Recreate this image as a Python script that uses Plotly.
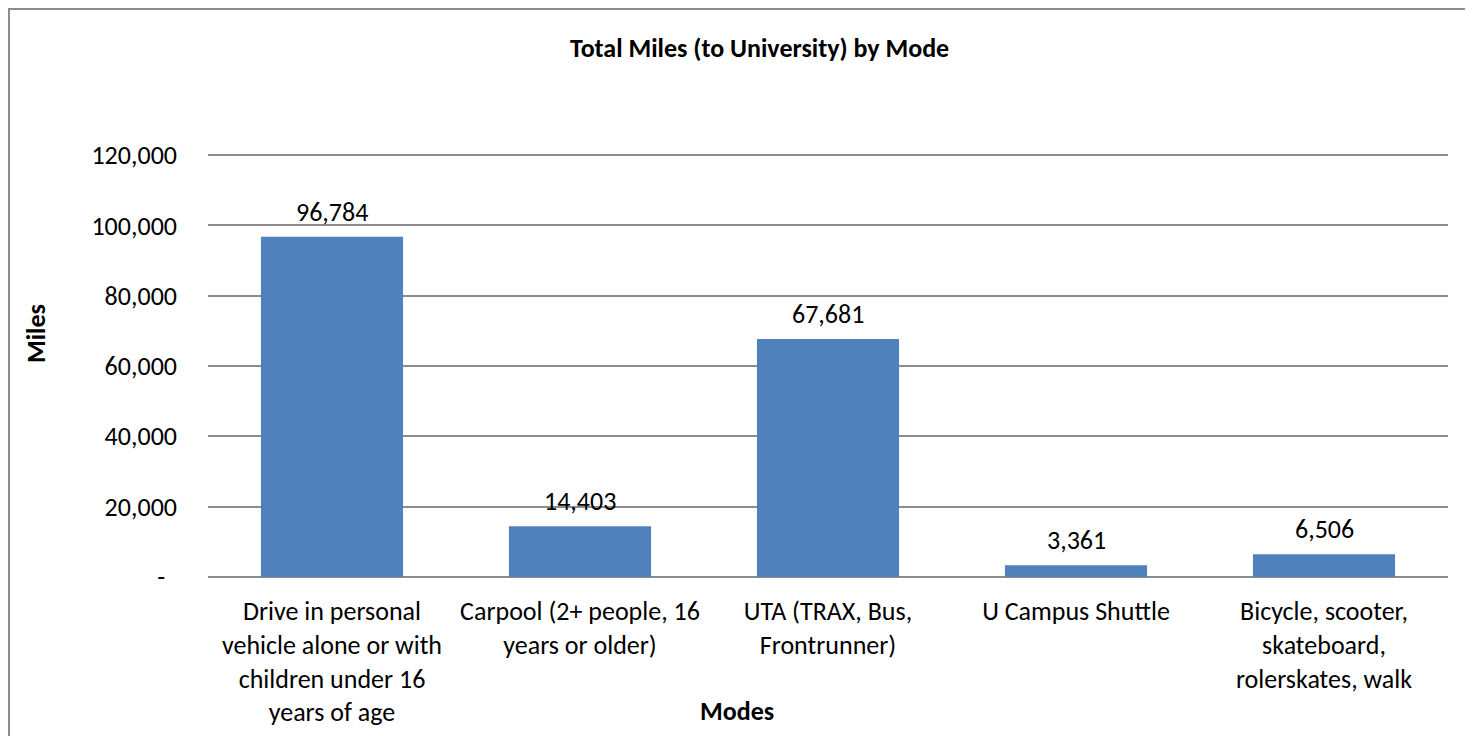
import plotly.graph_objs as go

modes = ['Drive in personal<br>vehicle alone or with<br>children under 16<br>years of age',
         'Carpool (2+ people, 16<br>years or older)',
         'UTA (TRAX, Bus,<br>Frontrunner)',
         'U Campus Shuttle',
         'Bicycle, scooter,<br>skateboard,<br>rolerskates, walk']
miles = [96784, 14403, 67681, 3361, 6506]
y_ticks = [0, 20000, 40000, 60000, 80000, 100000, 120000]
y_tick_labels = ['-&nbsp;&nbsp;', '20,000', '40,000', '60,000', '80,000', '100,000', '120,000']

# page body has an 8px margin, so shift everything up/left by 8
OFF = 8
W, H = 1473 - OFF, 736 - OFF
L, R, T, B = 208 - OFF, 25, 155 - OFF - 2, 159
FONT = 'Carlito, Calibri, Lato, sans-serif'
FS = 26
GRID = '#8c8c8c'


def px(x, y):
    # reference pixel position -> paper coords
    x, y = x - OFF, y - OFF
    return (x - L) / (W - L - R), (H - B - y) / (H - T - B)


fig = go.Figure()
fig.add_trace(go.Bar(x=modes, y=miles, marker_color='#4F81BD', marker_line_width=0))

for m, v in zip(modes, miles):
    fig.add_annotation(x=m, y=v, text=f'{v:,}', showarrow=False, yanchor='middle', yshift=25,
                       font=dict(size=FS, color='black', family=FONT))

tx, ty = px(759, 48)
fig.add_annotation(x=tx, y=ty, xref='paper', yref='paper', text='<b>Total Miles (to University) by Mode</b>',
                   showarrow=False, xanchor='center', yanchor='middle',
                   font=dict(size=FS, color='black', family=FONT))
mx, my = px(737, 711)
fig.add_annotation(x=mx, y=my, xref='paper', yref='paper', text='<b>Modes</b>',
                   showarrow=False, xanchor='center', yanchor='middle',
                   font=dict(size=FS, color='black', family=FONT))
ax, ay = px(36, 334)
fig.add_annotation(x=ax, y=ay, xref='paper', yref='paper', text='<b>Miles</b>', textangle=-90,
                   showarrow=False, xanchor='center', yanchor='middle',
                   font=dict(size=FS, color='black', family=FONT))

# chart frame: left, top, right edges (bottom is cut off in the original)
x0, y0 = px(OFF + 1, OFF + 1)
x1, y1 = px(1469, 736)
fig.add_shape(type='path', xref='paper', yref='paper',
              path=f'M {x0},{y1} L {x0},{y0} L {x1},{y0} L {x1},{y1}',
              line=dict(color=GRID, width=2))

fig.update_layout(
    width=W, height=H,
    margin=dict(l=L, r=R, t=T, b=B),
    plot_bgcolor='white', paper_bgcolor='white',
    bargap=0.427,
    showlegend=False,
    font=dict(family=FONT, size=FS, color='black'),
    xaxis=dict(showgrid=False, showline=False, ticks='', ticklabelstandoff=16, automargin=False),
    yaxis=dict(range=[0, 120600], tickvals=y_ticks, ticktext=y_tick_labels, automargin=False,
               showgrid=True, gridcolor=GRID, gridwidth=2, zeroline=True, zerolinecolor=GRID,
               zerolinewidth=2, showline=False, ticks='', ticklabelstandoff=30),
)

fig.write_html('out.html')
